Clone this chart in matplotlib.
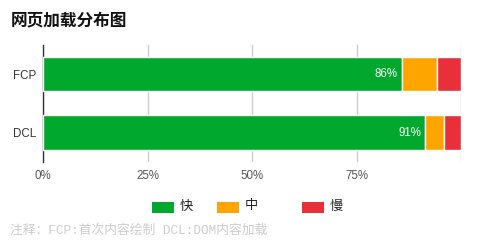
import matplotlib
matplotlib.use("Agg")
import matplotlib.pyplot as plt
from matplotlib.patches import Rectangle

categories = ["FCP", "DCL"]
fast = [85.7, 91.4]
medium = [8.4, 4.5]
slow = [5.9, 4.1]
series_names = ["快", "中", "慢"]
colors = ["#00a82d", "#ffa500", "#e8303a"]
xticks = [0, 25, 50, 75, 100]
xtick_labels = ["0%", "25%", "50%", "75%", ""]

plt.rcParams['font.family'] = ['Liberation Sans', 'Noto Sans CJK SC', 'DejaVu Sans']

fig = plt.figure(figsize=(4.79, 2.48), dpi=100)
ax = fig.add_axes([43.3/479, 1-161.7/248, (461.3-43.3)/479, (161.7-45)/248])

ypos = list(range(len(categories)))
left = [0]*len(categories)
for vals, col in zip([fast, medium, slow], colors):
    ax.barh(ypos, vals, left=left, height=0.59, color=col, edgecolor="white", linewidth=1, zorder=3)
    left = [l+v for l, v in zip(left, vals)]

for y, v in zip(ypos, fast):
    ax.text(v - 0.9, y, f"{round(v)}%", color="white", ha="right", va="center", fontsize=8.3, zorder=4)

ax.set_xlim(0, 100)
ax.set_ylim(1.5, -0.5)
ax.set_yticks(ypos)
ax.set_yticklabels(categories, fontsize=8.3, color="#333333")
ax.set_xticks(xticks)
ax.set_xticklabels(xtick_labels, fontsize=8.3, color="#555555")
ax.tick_params(axis="y", length=0, pad=5)
ax.tick_params(axis="x", length=0, pad=6)
ax.grid(axis="x", color="#cccccc", linewidth=1, zorder=0)
for s in ["top", "right", "bottom"]:
    ax.spines[s].set_visible(False)
ax.spines["left"].set_color("#333333")
ax.spines["left"].set_linewidth(1)

fig.text(11/479, 1-20.5/248, "网页加载分布图", fontsize=12, fontweight="bold",
         family=["Noto Sans CJK SC"], va="center", ha="left", color="#111111")

# legend
leg_x = [152, 217, 302]
for x, name, col in zip(leg_x, series_names, colors):
    fig.patches.append(Rectangle((x/479, 1-213/248), 22/479, 11/248, transform=fig.transFigure,
                                 facecolor=col, edgecolor="none"))
    fig.text((x+28)/479, 1-206/248, name, fontsize=9.5, family=["Noto Sans CJK SC"],
             va="center", ha="left", color="#222222")

fig.text(10/479, 1-230/248, "注释：FCP:首次内容绘制 DCL:DOM内容加载", fontsize=9.2,
         family=["Liberation Mono", "Noto Sans CJK SC"], va="center", ha="left", color="#cccccc")

fig.savefig("out.png", dpi=100)
